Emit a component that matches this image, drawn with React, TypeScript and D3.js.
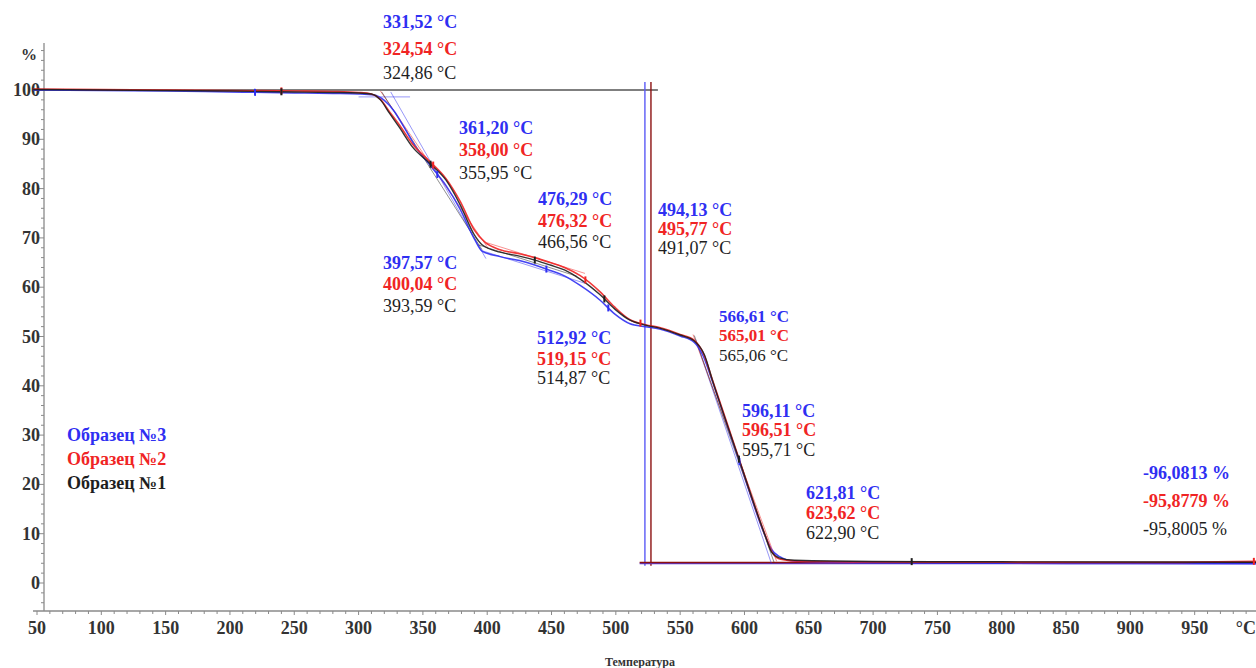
import React from 'react';
import * as d3 from 'd3';

// ---------- data ----------
// Образец №1 (black)
const sample1T = [47, 100, 150, 200, 250, 280, 300, 310, 317, 324, 332, 342, 355, 368, 379, 390, 396, 410, 425, 437, 449, 460, 472, 488, 499, 511, 523, 534, 550, 561, 569, 575, 596, 616, 621, 627, 639, 700, 800, 900, 1000];
const sample1Mass = [100.1, 100.0, 99.9, 99.8, 99.6, 99.5, 99.4, 99.2, 98.0, 95.3, 92.3, 88.4, 85.2, 81.7, 76.7, 70.6, 68.6, 67.1, 66.3, 65.5, 64.5, 63.5, 61.7, 58.4, 55.6, 53.3, 52.3, 51.7, 50.3, 49.1, 46.2, 41.2, 24.9, 9.7, 6.3, 5.1, 4.6, 4.35, 4.3, 4.25, 4.2];
// Образец №2 (red)
const sample2T = [47, 100, 150, 200, 250, 280, 300, 310, 317, 324, 332, 342, 355, 368, 379, 390, 398, 410, 425, 437, 449, 460, 472, 488, 499, 511, 523, 534, 550, 561, 568, 575, 596, 616, 622, 628, 643, 700, 800, 900, 1000];
const sample2Mass = [100.2, 100.1, 100.0, 99.9, 99.8, 99.7, 99.5, 99.2, 98.1, 95.6, 92.8, 89.0, 85.6, 82.0, 77.4, 71.6, 69.2, 67.6, 66.8, 66.0, 65.0, 64.0, 62.4, 59.0, 56.0, 53.4, 52.4, 51.8, 50.4, 49.2, 46.6, 41.3, 25.0, 9.8, 6.0, 4.8, 4.4, 4.25, 4.2, 4.15, 4.4];
// Образец №3 (blue)
const sample3T = [47, 100, 150, 200, 250, 280, 300, 312, 320, 328, 335, 344, 356, 368, 379, 390, 396, 410, 425, 437, 449, 460, 472, 488, 499, 511, 523, 534, 550, 561, 568, 575, 596, 616, 621, 627, 640, 700, 800, 900, 1000];
const sample3Mass = [100.0, 99.9, 99.8, 99.6, 99.4, 99.3, 99.2, 99.0, 97.9, 95.6, 92.6, 88.6, 84.6, 80.6, 75.8, 69.8, 67.3, 66.2, 65.4, 64.5, 63.4, 62.3, 60.4, 57.3, 54.6, 52.6, 52.0, 51.5, 50.1, 48.8, 46.0, 40.9, 24.7, 9.6, 6.8, 5.4, 4.4, 4.1, 4.0, 3.95, 3.9];

// tangent construction lines [T1, m1, T2, m2]
const sample1Tangents = [[318, 99.6, 396, 67.6], [393, 68.6, 470, 62.2], [561, 50.2, 623, 4.2]];
const sample2Tangents = [[317, 99.8, 401, 67.8], [400, 69.0, 476, 62.8], [560, 50.4, 625, 4.4]];
const sample3Tangents = [[300, 98.6, 340, 98.6], [325, 99.6, 399, 65.8], [396, 67.4, 476, 60.8], [562, 49.4, 621, 3.9]];

// markers on the curves (temperatures)
const sample1Markers = [240, 355.95, 437, 491.07, 595.71, 730];
const sample2Markers = [240, 358.0, 476.32, 519.15, 996];
const sample3Markers = [219.5, 361.2, 446, 494.13, 596.11];

// reference lines
const stepLinesT = [522.6, 527.3]; // blue, maroon verticals
const stepLineRange = [3.5, 101.6];
const topLevel = 100;
const topLevelRange = [47, 532.7];
const bottomLevels = [3.95, 4.15];
const bottomLevelRange = [518.5, 1000];

// axis ticks
const xTickValues = [50, 100, 150, 200, 250, 300, 350, 400, 450, 500, 550, 600, 650, 700, 750, 800, 850, 900, 950];
const xTickLabels = ['50', '100', '150', '200', '250', '300', '350', '400', '450', '500', '550', '600', '650', '700', '750', '800', '850', '900', '950'];
const xUnitLabel = '°C';
const yTickValues = [0, 10, 20, 30, 40, 50, 60, 70, 80, 90, 100];
const yUnitLabel = '%';
const xAxisTitle = 'Температура';

// text labels
const legendNames = ['Образец №3', 'Образец №2', 'Образец №1'];
const labelGroups = [
  ['331,52 °C', '324,54 °C', '324,86 °C'],
  ['361,20 °C', '358,00 °C', '355,95 °C'],
  ['476,29 °C', '476,32 °C', '466,56 °C'],
  ['494,13 °C', '495,77 °C', '491,07 °C'],
  ['397,57 °C', '400,04 °C', '393,59 °C'],
  ['512,92 °C', '519,15 °C', '514,87 °C'],
  ['566,61 °C', '565,01 °C', '565,06 °C'],
  ['596,11 °C', '596,51 °C', '595,71 °C'],
  ['621,81 °C', '623,62 °C', '622,90 °C'],
  ['-96,0813 %', '-95,8779 %', '-95,8005 %'],
];

// ---------- layout (pixels) ----------
const W = 1256;
const H = 668;
const BLUE = '#2f2ff2';
const RED = '#f02424';
const BLACK = '#1e1e1e';
const MAROON = '#8c1010';
const AXIS = '#8a8a8a';
const FONT = '"Liberation Serif", "DejaVu Serif", serif';

// label group positions: x, baselines for the three rows
const labelLayout = [
  { x: 383, ys: [28, 55, 79] },
  { x: 459, ys: [134, 156, 179] },
  { x: 538, ys: [205, 227, 248] },
  { x: 658, ys: [216, 235, 254] },
  { x: 383, ys: [269, 290, 312] },
  { x: 537, ys: [344, 365, 384] },
  { x: 719, ys: [322, 341, 361] },
  { x: 742, ys: [417, 436, 456] },
  { x: 806, ys: [499, 519, 539] },
  { x: 1143, ys: [479, 507, 535] },
];
const rowColors = [BLUE, RED, BLACK];

export default function App() {
  const x = d3.scaleLinear().domain([50, 1000]).range([37, 1259]);
  const y = d3.scaleLinear().domain([0, 100]).range([583, 90]);

  const yAxisX = 44;
  const xAxisY = 611;
  const yAxisTop = 43;

  const line = d3
    .line<[number, number]>()
    .x((d) => x(d[0]))
    .y((d) => y(d[1]))
    .curve(d3.curveMonotoneX);

  const series = [
    { T: sample3T, m: sample3Mass, color: BLUE, tangents: sample3Tangents, markers: sample3Markers, w: 1.5 },
    { T: sample2T, m: sample2Mass, color: RED, tangents: sample2Tangents, markers: sample2Markers, w: 1.6 },
    { T: sample1T, m: sample1Mass, color: BLACK, tangents: sample1Tangents, markers: sample1Markers, w: 1.4 },
  ];

  const interp = (T: number[], m: number[], t: number) => {
    const i = d3.bisectLeft(T, t);
    if (i <= 0) return m[0];
    if (i >= T.length) return m[m.length - 1];
    const f = (t - T[i - 1]) / (T[i] - T[i - 1]);
    return m[i - 1] + f * (m[i] - m[i - 1]);
  };

  const xMinor = d3.range(50, 1001, 10);
  const yMinor = d3.range(-4, 109, 2);

  return (
    <svg
      width={W}
      height={H}
      style={{ position: 'absolute', left: 0, top: 0, background: '#fff' }}
      fontFamily={FONT}
    >
      <rect width={W} height={H} fill="#fff" />

      {/* Y axis */}
      <line x1={yAxisX} x2={yAxisX} y1={yAxisTop} y2={xAxisY} stroke={AXIS} strokeWidth={1.3} />
      {yMinor.map((v) => (
        <line key={'ym' + v} x1={yAxisX - (v % 10 === 0 ? 5 : 3)} x2={yAxisX} y1={y(v)} y2={y(v)} stroke={AXIS} strokeWidth={1} />
      ))}
      {yTickValues.map((v) => (
        <text key={'yl' + v} x={40} y={y(v) + 6} textAnchor="end" fontSize={18} fontWeight="bold" fill="#333">
          {v}
        </text>
      ))}
      <text x={37} y={60} textAnchor="end" fontSize={16} fontWeight="bold" fill="#333">
        {yUnitLabel}
      </text>

      {/* X axis */}
      <line x1={33} x2={W} y1={xAxisY} y2={xAxisY} stroke={AXIS} strokeWidth={1.3} />
      {xMinor.map((t) => (
        <line key={'xm' + t} x1={x(t)} x2={x(t)} y1={xAxisY} y2={xAxisY + (t % 50 === 0 ? 4 : 3)} stroke={AXIS} strokeWidth={1} />
      ))}
      {xTickValues.map((t, i) => (
        <text key={'xl' + t} x={x(t)} y={634} textAnchor="middle" fontSize={18} fontWeight="bold" fill="#333">
          {xTickLabels[i]}
        </text>
      ))}
      <text x={1256} y={634} textAnchor="end" fontSize={18} fontWeight="bold" fill="#333">
        {xUnitLabel}
      </text>
      <text x={640} y={666} textAnchor="middle" fontSize={12} fontWeight="bold" fill="#333">
        {xAxisTitle}
      </text>

      {/* reference lines */}
      <line x1={x(topLevelRange[0])} x2={x(topLevelRange[1])} y1={y(topLevel)} y2={y(topLevel)} stroke="#555" strokeWidth={1.3} />
      {stepLinesT.map((t, i) => (
        <line
          key={'sv' + i}
          x1={x(t)}
          x2={x(t)}
          y1={y(stepLineRange[1])}
          y2={y(stepLineRange[0])}
          stroke={i === 0 ? '#5a5af5' : MAROON}
          strokeWidth={1.4}
        />
      ))}
      {bottomLevels.map((v, i) => (
        <line
          key={'bl' + i}
          x1={x(bottomLevelRange[0])}
          x2={x(bottomLevelRange[1])}
          y1={y(v)}
          y2={y(v)}
          stroke={i === 0 ? '#5a3ad0' : MAROON}
          strokeWidth={1.6}
        />
      ))}

      {/* tangent lines */}
      {series.map((s, si) =>
        s.tangents.map((tg, ti) => (
          <line
            key={'tg' + si + '-' + ti}
            x1={x(tg[0])}
            y1={y(tg[1])}
            x2={x(tg[2])}
            y2={y(tg[3])}
            stroke={s.color}
            strokeWidth={0.9}
            opacity={0.55}
          />
        ))
      )}

      {/* curves */}
      {series.map((s, si) => (
        <path
          key={'c' + si}
          d={line(s.T.map((t, i) => [t, s.m[i]] as [number, number])) || ''}
          fill="none"
          stroke={s.color}
          strokeWidth={s.w}
          opacity={0.9}
        />
      ))}

      {/* markers */}
      {series.map((s, si) =>
        s.markers.map((t, mi) => {
          const cx = x(t);
          const cy = y(interp(s.T, s.m, t));
          return (
            <line key={'mk' + si + '-' + mi} x1={cx} x2={cx} y1={cy - 3.5} y2={cy + 3.5} stroke={s.color} strokeWidth={2} />
          );
        })
      )}

      {/* annotations */}
      {labelGroups.map((g, gi) =>
        g.map((txt, ri) => (
          <text
            key={'lb' + gi + '-' + ri}
            x={labelLayout[gi].x}
            y={labelLayout[gi].ys[ri]}
            fontSize={gi === 6 ? 17 : 18}
            fontWeight={ri === 2 ? 'normal' : 'bold'}
            fill={rowColors[ri]}
          >
            {txt}
          </text>
        ))
      )}

      {/* legend */}
      {legendNames.map((n, i) => (
        <text key={'lg' + i} x={67} y={441 + i * 24} fontSize={18} fontWeight="bold" fill={rowColors[i]}>
          {n}
        </text>
      ))}
    </svg>
  );
}
